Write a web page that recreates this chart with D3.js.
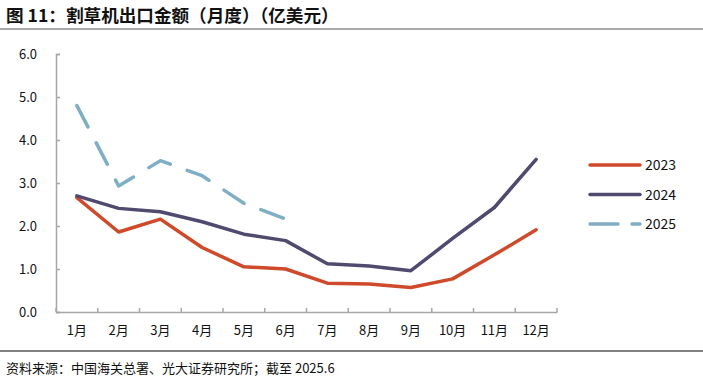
<!DOCTYPE html>
<html>
<head>
<meta charset="utf-8">
<script src="https://cdn.jsdelivr.net/npm/d3@7/dist/d3.min.js"></script>
<style>
  body { margin: 0; background: #fff; }
  svg { display: block; font-family: "Noto Sans CJK SC", "Noto Sans", sans-serif; }
</style>
</head>
<body>
<div id="chart"></div>
<script>
const months = ['1月','2月','3月','4月','5月','6月','7月','8月','9月','10月','11月','12月'];
const yTicks = [0, 1, 2, 3, 4, 5, 6];
const v2023 = [2.66, 1.86, 2.16, 1.50, 1.05, 1.00, 0.67, 0.65, 0.57, 0.77, 1.33, 1.91];
const v2024 = [2.70, 2.41, 2.33, 2.10, 1.81, 1.66, 1.12, 1.07, 0.96, 1.71, 2.43, 3.55];
const v2025 = [4.80, 2.93, 3.52, 3.17, 2.53, 2.16];

const series = [
  {name: '2023', values: v2023, color: '#cf4a2a', dash: null},
  {name: '2024', values: v2024, color: '#504a6f', dash: null},
  {name: '2025', values: v2025, color: '#7fafc5', dash: '24,18'}
];

const W = 703, H = 382;
const margin = {t: 54, r: 146, b: 70, l: 56};

const svg = d3.select('#chart').append('svg')
  .attr('width', W)
  .attr('height', H);

// title
svg.append('text')
  .attr('x', 6).attr('y', 22)
  .style('font-size', '17.6px').style('font-weight', 'bold').style('fill', '#111')
  .text('图 11：割草机出口金额（月度）（亿美元）');
svg.append('line')
  .attr('x1', 0).attr('x2', W).attr('y1', 29).attr('y2', 29)
  .style('stroke', '#555').style('stroke-width', 1);

const x = d3.scaleBand().domain(months).range([margin.l, W - margin.r]);
const y = d3.scaleLinear().domain([0, 6]).range([H - margin.b, margin.t]);

const g = svg.append('g');

// y axis
const yAxis = g.append('g')
  .attr('transform', `translate(${margin.l},0)`)
  .call(d3.axisLeft(y).tickValues(yTicks).tickSize(-4).tickPadding(19).tickFormat(d3.format('.1f')));
// x axis
const xAxis = g.append('g')
  .attr('transform', `translate(0,${H - margin.b})`)
  .call(d3.axisBottom(x).tickSize(0).tickPadding(14));

// inner ticks between months
xAxis.selectAll('.tb')
  .data(d3.range(months.length + 1))
  .enter().append('line')
  .attr('class', 'tb')
  .attr('x1', i => margin.l + i * x.bandwidth())
  .attr('x2', i => margin.l + i * x.bandwidth())
  .attr('y1', 0).attr('y2', -4)
  .style('stroke', '#a6a6a6').style('stroke-width', 1.5);

[yAxis, xAxis].forEach(a => {
  a.select('.domain').style('stroke', '#a6a6a6').style('stroke-width', 1.5);
  a.selectAll('.tick line').style('stroke', '#a6a6a6').style('stroke-width', 1.5);
  a.selectAll('text').style('font-size', '13px').style('fill', '#111')
    .style('font-family', '"Noto Sans CJK SC", "Noto Sans", sans-serif');
});

const line = d3.line()
  .x((d, i) => x(months[i]) + x.bandwidth() / 2)
  .y(d => y(d));

series.forEach(s => {
  g.append('path')
    .datum(s.values)
    .attr('d', line)
    .style('fill', 'none')
    .style('stroke', s.color)
    .style('stroke-width', 3.5)
    .style('stroke-linecap', 'round')
    .style('stroke-linejoin', 'round')
    .style('stroke-dasharray', s.dash);
});

// legend
const legend = svg.append('g').attr('transform', 'translate(590,165)');
series.forEach((s, i) => {
  const row = legend.append('g').attr('transform', `translate(0,${i * 29.5})`);
  row.append('line')
    .attr('x1', 0).attr('x2', 50).attr('y1', 0).attr('y2', 0)
    .style('stroke', s.color).style('stroke-width', 3.5)
    .style('stroke-linecap', 'round')
    .style('stroke-dasharray', s.dash ? '28,14' : null);
  row.append('text')
    .attr('x', 55).attr('y', 5)
    .style('font-size', '14px').style('fill', '#111')
    .text(s.name);
});

// footer
svg.append('line')
  .attr('x1', 0).attr('x2', W).attr('y1', 351).attr('y2', 351)
  .style('stroke', '#808080').style('stroke-width', 2);
svg.append('text')
  .attr('x', 6).attr('y', 373)
  .style('font-size', '13px').style('fill', '#111')
  .text('资料来源：中国海关总署、光大证券研究所；截至 2025.6');
</script>
</body>
</html>
